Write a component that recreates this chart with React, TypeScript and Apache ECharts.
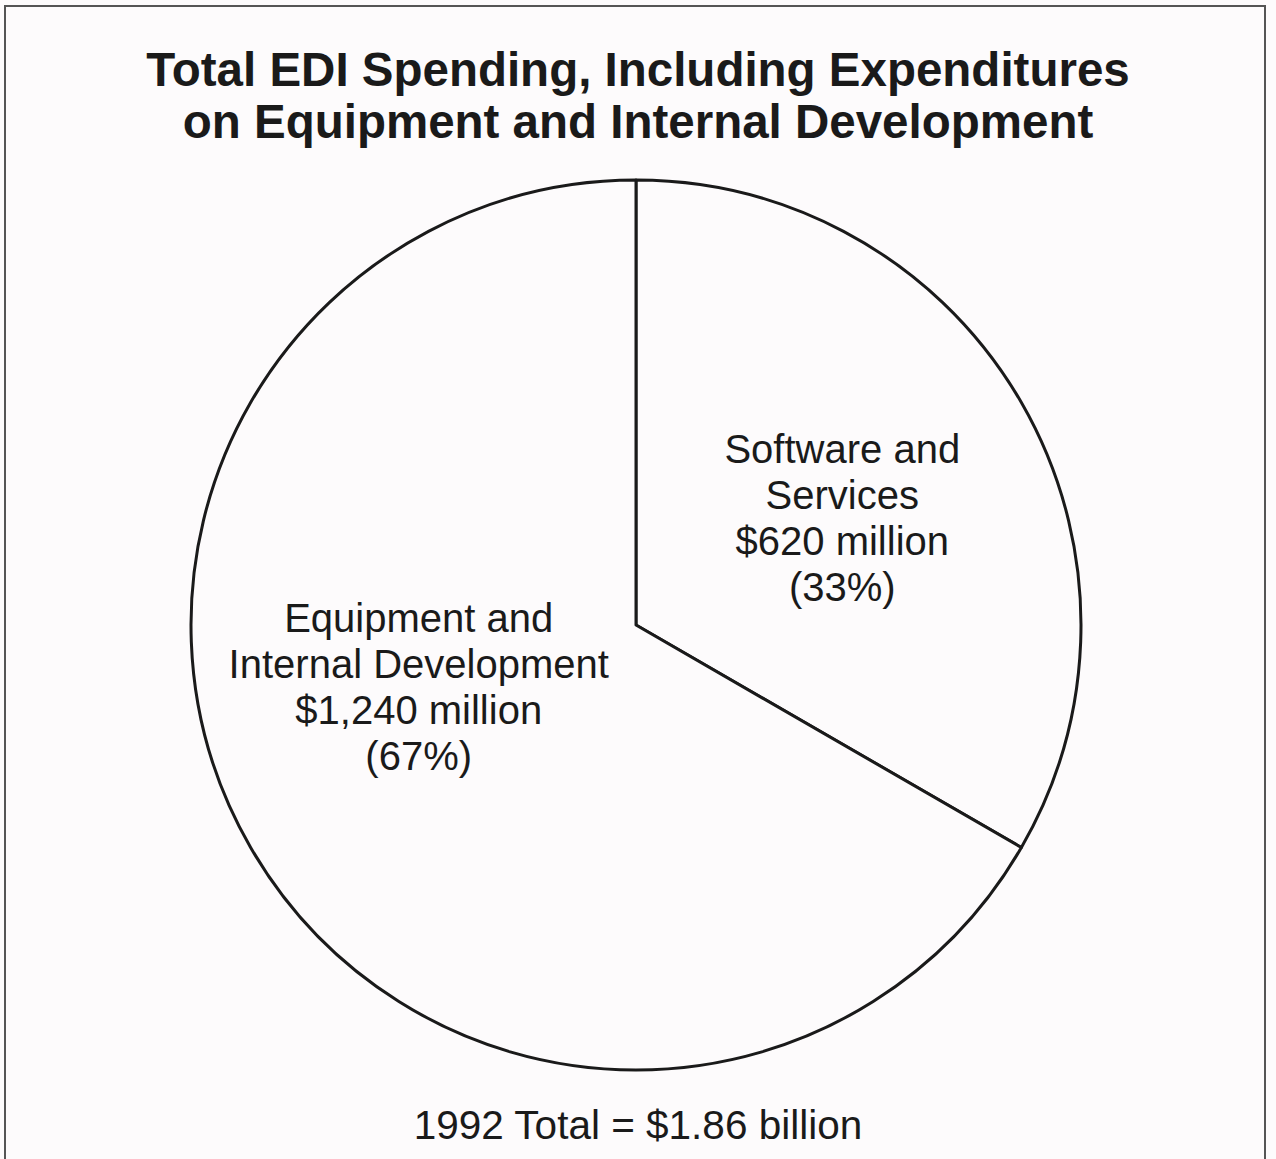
import React, { useEffect, useRef } from "react";
import * as echarts from "echarts";

const titleLines = [
  "Total EDI Spending, Including Expenditures",
  "on Equipment and Internal Development",
];
const categories = ["Software and\nServices", "Equipment and\nInternal Development"];
const values = [620, 1240]; // $ million
const year = "1992";

const FONT = "'Liberation Sans', Arial, Helvetica, sans-serif";

export default function App() {
  const ref = useRef<HTMLDivElement>(null);
  useEffect(() => {
    if (!ref.current) return;
    const chart = echarts.init(ref.current, null, { renderer: "svg" });
    const total = values.reduce((a, b) => a + b, 0);
    const labelShift = [
      { dx: 11, dy: 6 },
      { dx: -22, dy: -51 },
    ];
    chart.setOption({
      animation: false,
      backgroundColor: "#fdfbfc",
      title: [
        {
          text: titleLines.join("\n"),
          left: "center",
          top: 38,
          textStyle: {
            fontFamily: FONT,
            fontSize: 47.5,
            fontWeight: "bold",
            lineHeight: 52,
            color: "#1a1a1a",
          },
        },
        {
          text: `${year} Total = $${(total / 1000).toFixed(2)} billion`,
          left: "center",
          top: 1098,
          textStyle: {
            fontFamily: FONT,
            fontSize: 40.5,
            fontWeight: "normal",
            lineHeight: 44,
            color: "#1a1a1a",
          },
        },
      ],
      graphic: [
        {
          type: "rect",
          shape: { x: 5, y: 6, width: 1260, height: 1180 },
          style: { fill: "none", stroke: "#555", lineWidth: 2 },
          silent: true,
        },
      ],
      series: [
        {
          type: "pie",
          center: [636, 625],
          radius: 445,
          startAngle: 90,
          clockwise: true,
          percentPrecision: 0,
          itemStyle: { color: "#fdfbfc", borderColor: "#1a1a1a", borderWidth: 3 },
          emphasis: { disabled: true },
          label: {
            show: true,
            position: "inside",
            fontFamily: FONT,
            fontSize: 40,
            lineHeight: 46,
            color: "#1a1a1a",
            align: "center",
            formatter: (p: any) =>
              `${p.name}\n$${p.value.toLocaleString("en-US")} million\n(${p.percent}%)`,
          },
          labelLayout: (params: any) => labelShift[params.dataIndex],
          data: categories.map((name, i) => ({ name, value: values[i] })),
        },
      ],
    });
    return () => chart.dispose();
  }, []);
  return (
    <div
      ref={ref}
      style={{ position: "absolute", left: 0, top: 0, width: 1276, height: 1159 }}
    />
  );
}
